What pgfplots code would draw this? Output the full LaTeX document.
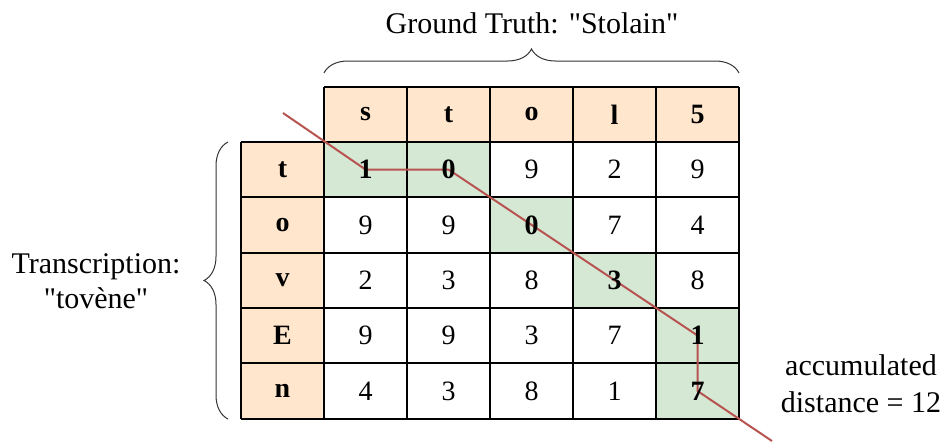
\documentclass[border=0pt]{standalone}
\usepackage{pgfplots}
\pgfplotsset{compat=1.18}
\usepackage{fontspec}
\setmainfont{Liberation Serif}[Ligatures=TeXOff]
\usetikzlibrary{decorations.pathreplacing}
\definecolor{hdr}{HTML}{FFE6CC}
\definecolor{grn}{HTML}{D5E8D4}
\definecolor{redl}{HTML}{B85450}
\definecolor{brc}{HTML}{333333}
\newcommand{\bigtxt}{\fontsize{30}{35}\selectfont}
\newcommand{\cellf}{\fontsize{28}{32}\selectfont}
\begin{document}
\begin{tikzpicture}
\begin{axis}[
  scale only axis, width=945pt, height=441pt,
  xmin=0, xmax=945, ymin=0, ymax=441, y dir=reverse,
  hide axis, clip=false,
  unbounded coords=jump,
  every node near coord/.append style={anchor=center, inner sep=0pt},
]
% bounding box
\addplot[draw=none, forget plot] coordinates {(0,0) (945,441)};
% header fills
\addplot[fill=hdr, draw=none] coordinates {(324,87) (739,87) (739,142) (324,142)} -- cycle;
\addplot[fill=hdr, draw=none] coordinates {(241,142) (324,142) (324,419) (241,419)} -- cycle;
% green cells
\addplot[fill=grn, draw=none] coordinates {(324,142) (490,142) (490,197) (324,197)} -- cycle;
\addplot[fill=grn, draw=none] coordinates {(490,197) (573,197) (573,253) (490,253)} -- cycle;
\addplot[fill=grn, draw=none] coordinates {(573,253) (656,253) (656,308) (573,308)} -- cycle;
\addplot[fill=grn, draw=none] coordinates {(656,308) (739,308) (739,419) (656,419)} -- cycle;
% grid lines
\addplot[black, line width=1.3pt] coordinates {
(324,87) (739,87) (nan,nan)
(241,142) (739,142) (nan,nan)
(241,197) (739,197) (nan,nan)
(241,253) (739,253) (nan,nan)
(241,308) (739,308) (nan,nan)
(241,363) (739,363) (nan,nan)
(241,419) (739,419) (nan,nan)
(241,142) (241,419) (nan,nan)
(324,87) (324,419) (nan,nan)
(407,87) (407,419) (nan,nan)
(490,87) (490,419) (nan,nan)
(573,87) (573,419) (nan,nan)
(656,87) (656,419) (nan,nan)
(739,87) (739,419)
};
% header labels (bold)
\addplot[only marks, mark=none, nodes near coords, point meta=explicit symbolic,
  every node near coord/.append style={font=\cellf\bfseries}] coordinates {
(365.5,114.5)[s] (448.5,114.5)[t] (531.5,114.5)[o] (614.5,114.5)[l] (697.5,114.5)[5]
(282.5,169.5)[t] (282.5,225)[o] (282.5,280.5)[v] (282.5,335.5)[E] (282.5,391)[n]
};
% path values (bold)
\addplot[only marks, mark=none, nodes near coords, point meta=explicit symbolic,
  every node near coord/.append style={font=\cellf\bfseries}] coordinates {
(365.5,169.5)[1] (448.5,169.5)[0] (531.5,225)[0] (614.5,280.5)[3] (697.5,335.5)[1] (697.5,391)[7]
};
% other values
\addplot[only marks, mark=none, nodes near coords, point meta=explicit symbolic,
  every node near coord/.append style={font=\cellf}] coordinates {
(531.5,169.5)[9] (614.5,169.5)[2] (697.5,169.5)[9]
(365.5,225)[9] (448.5,225)[9] (614.5,225)[7] (697.5,225)[4]
(365.5,280.5)[2] (448.5,280.5)[3] (531.5,280.5)[8] (697.5,280.5)[8]
(365.5,335.5)[9] (448.5,335.5)[9] (531.5,335.5)[3] (614.5,335.5)[7]
(365.5,391)[4] (448.5,391)[3] (531.5,391)[8] (614.5,391)[1]
};
% warping path
\addplot[redl, line width=2pt] coordinates {
(283,113) (365.5,169.5) (448.5,169.5) (697.5,335.5) (697.5,391) (772,441)
};
% braces
\draw[brc, line width=1pt, decorate, decoration={brace, amplitude=24pt}]
  (axis cs:324,73) -- (axis cs:739,73);
\draw[brc, line width=1pt, decorate, decoration={brace, amplitude=24pt}]
  (axis cs:228,419) -- (axis cs:228,142);
% texts
\node[font=\bigtxt, anchor=base] at (axis cs:532,33) {Ground Truth: "Stolain"};
\node[font=\bigtxt, anchor=base] at (axis cs:96,273) {Transcription:};
\node[font=\bigtxt, anchor=base] at (axis cs:96,308) {"tovène"};
\node[font=\bigtxt, anchor=base] at (axis cs:861,375) {accumulated};
\node[font=\bigtxt, anchor=base] at (axis cs:861,412) {distance = 12};
\end{axis}
\end{tikzpicture}
\end{document}
